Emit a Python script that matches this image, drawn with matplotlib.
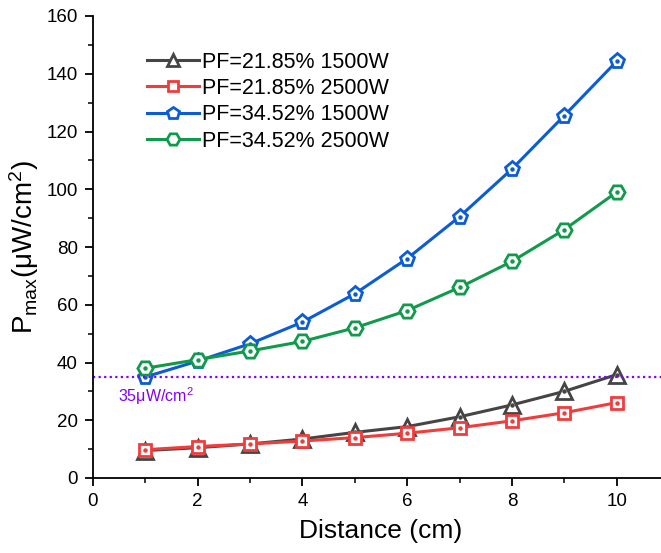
import numpy as np
import matplotlib.pyplot as plt
from matplotlib.ticker import MultipleLocator

plt.rcParams['font.family'] = ['Liberation Sans', 'DejaVu Sans']
plt.rcParams['mathtext.fontset'] = 'custom'
plt.rcParams['mathtext.rm'] = 'Liberation Sans'
plt.rcParams['mathtext.it'] = 'Liberation Sans'

distance = [1, 2, 3, 4, 5, 6, 7, 8, 9, 10]
pf2185_1500 = [9.5, 10.5, 11.8, 13.5, 15.8, 17.8, 21.2, 25.3, 30.0, 35.8]
pf2185_2500 = [9.8, 10.9, 11.8, 12.8, 14.0, 15.5, 17.4, 19.8, 22.6, 26.1]
pf3452_1500 = [35.0, 40.5, 46.5, 54.0, 63.8, 76.0, 90.5, 107.0, 125.5, 144.3]
pf3452_2500 = [38.0, 41.0, 44.0, 47.3, 52.0, 58.0, 66.0, 75.0, 86.0, 99.0]
labels = ['PF=21.85% 1500W', 'PF=21.85% 2500W', 'PF=34.52% 1500W', 'PF=34.52% 2500W']
threshold = 35

fig = plt.figure(figsize=(6.61, 5.53), dpi=100)
ax = fig.add_axes([93/661, 75/553, 576/661, 462/553])

series = [pf2185_1500, pf2185_2500, pf3452_1500, pf3452_2500]
colors = ['#454545', '#f23c3c', '#0b5cd6', '#119a4b']
markers = ['^', 's', 'p', 'H']
sizes = [11, 9, 11, 11]
for y, c, m, s, lab in zip(series, colors, markers, sizes, labels):
    ax.plot(distance, y, color=c, lw=2.2, marker=m, ms=s, mfc='white',
            mec=c, mew=2.0, label=lab)
    ax.plot(distance, y, ls='none', marker='o', ms=2.2, color=c)

ax.axhline(threshold, color='#8000ff', ls=(0, (1, 1.5)), lw=1.6)
ax.text(0.48, 32, '35μW/cm$^2$', color='#8000ff', fontsize=11.5, va='top')

ax.set_xlim(0, 11)
ax.set_ylim(0, 160)
ax.xaxis.set_major_locator(MultipleLocator(2))
ax.xaxis.set_minor_locator(MultipleLocator(1))
ax.yaxis.set_major_locator(MultipleLocator(20))
ax.yaxis.set_minor_locator(MultipleLocator(10))
ax.tick_params(which='major', direction='out', length=6, width=1.3, labelsize=13.5, pad=5)
ax.tick_params(which='minor', direction='out', length=3.5, width=1.1)
for sp in ['top', 'right']:
    ax.spines[sp].set_visible(False)
for sp in ['left', 'bottom']:
    ax.spines[sp].set_linewidth(1.3)

ax.set_xlabel('Distance (cm)', fontsize=19, labelpad=6)
ax.set_ylabel('P$_{max}$(μW/cm$^2$)', fontsize=20, labelpad=4)

leg = ax.legend(loc='upper left', bbox_to_anchor=(0.06, 0.965), frameon=False,
                fontsize=15.5, handlelength=2.4, labelspacing=0.25,
                handletextpad=0.15, markerscale=0.85)

fig.savefig('out.png', dpi=100)
